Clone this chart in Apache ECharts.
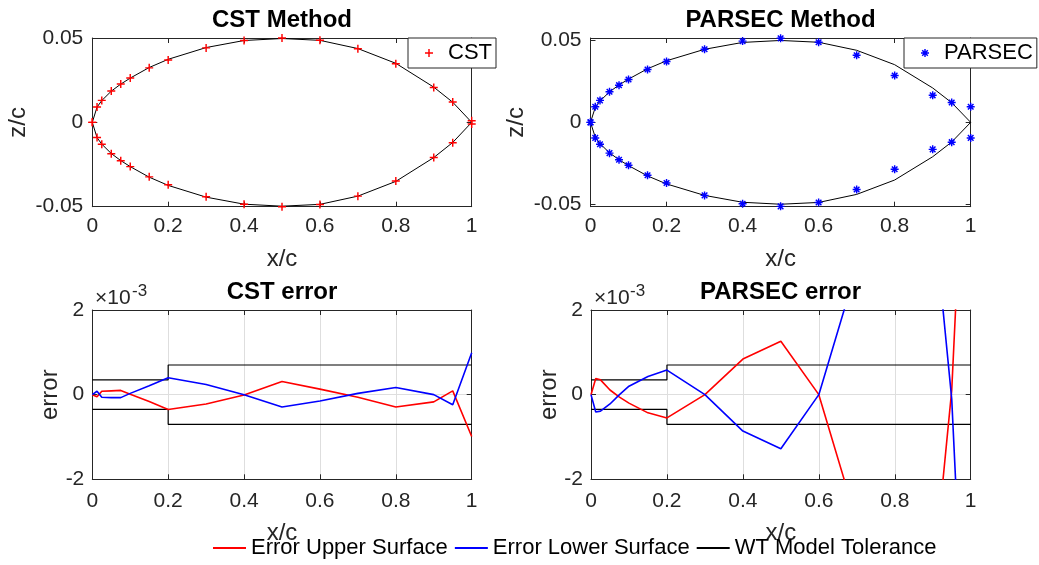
<!DOCTYPE html>
<html><head><meta charset="utf-8">
<script src="https://cdn.jsdelivr.net/npm/echarts@6/dist/echarts.min.js"></script>
<style>html,body{margin:0;padding:0;background:#fff}#c{width:1039px;height:565px}</style>
</head><body><div id="c"></div>
<script>
// ---- data ----
const xc = [0, 0.0125, 0.025, 0.05, 0.075, 0.1, 0.15, 0.2, 0.3, 0.4, 0.5, 0.6, 0.7, 0.8, 0.9, 0.95, 1];
const refUpper = [0, 0.0091, 0.0130, 0.0186, 0.0228, 0.0264, 0.0327, 0.0376, 0.0446, 0.0488, 0.0500, 0.0489, 0.0440, 0.0352, 0.0210, 0.0120, 0];
const refLower = [0, -0.0091, -0.0130, -0.0186, -0.0228, -0.0264, -0.0327, -0.0376, -0.0446, -0.0488, -0.0500, -0.0489, -0.0440, -0.0352, -0.0210, -0.0120, 0];
const cstUpper = [0, 0.0091, 0.0131, 0.0187, 0.0229, 0.0264, 0.0325, 0.0372, 0.0444, 0.0488, 0.0503, 0.0490, 0.0439, 0.0349, 0.0208, 0.0121, -0.0010];
const cstLower = [0, -0.0090, -0.0131, -0.0187, -0.0229, -0.0264, -0.0325, -0.0372, -0.0444, -0.0488, -0.0503, -0.0490, -0.0440, -0.0350, -0.0210, -0.0122, 0.0010];
const parsecUpper = [0, 0.0095, 0.0134, 0.0187, 0.0227, 0.0262, 0.0323, 0.0371, 0.0446, 0.0496, 0.0513, 0.0489, 0.0410, 0.0286, 0.0165, 0.0121, 0.0095];
const parsecLower = [0, -0.0095, -0.0134, -0.0188, -0.0228, -0.0262, -0.0323, -0.0370, -0.0446, -0.0497, -0.0513, -0.0489, -0.0410, -0.0286, -0.0165, -0.0121, -0.0095];
// errors in units of 1e-3
const cstErrUpper = [0, -0.05, 0.08, 0.09, 0.10, 0.01, -0.16, -0.35, -0.22, -0.01, 0.31, 0.13, -0.06, -0.29, -0.17, 0.09, -0.99];
const cstErrLower = [0, 0.08, -0.06, -0.07, -0.07, 0.03, 0.21, 0.40, 0.24, 0.00, -0.29, -0.15, 0.03, 0.17, 0.00, -0.24, 0.99];
const parsecErrUpper = [0, 0.38, 0.35, 0.11, -0.06, -0.20, -0.43, -0.55, 0.00, 0.84, 1.26, 0.00, -3.0, -6.6, -4.5, 0.1, 9.5];
const parsecErrLower = [0, -0.41, -0.39, -0.22, 0.00, 0.20, 0.43, 0.58, 0.00, -0.86, -1.28, 0.00, 3.0, 6.6, 4.5, -0.1, -9.5];
const tolX = [0, 0.2, 0.2, 1];
const tolUpper = [0.35, 0.35, 0.7, 0.7];
const tolLower = [-0.35, -0.35, -0.7, -0.7];
const zTicks = [-0.05, 0, 0.05];
const titles = ['CST Method', 'PARSEC Method', 'CST error', 'PARSEC error'];
const legendNames = ['Error Upper Surface', 'Error Lower Surface', 'WT Model Tolerance'];

// ---- styling ----
const FONT = '"Liberation Sans", Arial, sans-serif';
const AX = '#262626';
const PLUS = 'path://M4.1,0H5.9V4.1H10V5.9H5.9V10H4.1V5.9H0V4.1H4.1Z';
const STAR = 'path://M0,4.1H10V5.9H0Z M4.1,0H5.9V10H4.1Z M2.14,0.86L9.14,7.86L7.86,9.14L0.86,2.14Z M9.14,2.14L2.14,9.14L0.86,7.86L7.86,0.86Z';
const zip = (a, b) => a.map((v, i) => [v, b[i]]);

const grids = [
  {left: 92.3, top: 38, width: 379.4, height: 168.7},
  {left: 590.5, top: 38, width: 380.2, height: 168.7},
  {left: 92.3, top: 310, width: 379.4, height: 169.3},
  {left: 591, top: 310, width: 379.7, height: 169.3}
].map(g => Object.assign({outerBoundsMode: 'none', containLabel: false}, g));

const xAxis = [], yAxis = [];
grids.forEach((g, gi) => {
  const bottom = gi >= 2;
  const common = {gridIndex: gi, type: 'value', min: 0, max: 1, interval: 0.2,
    axisLine: {show: true, onZero: false, lineStyle: {color: AX, width: 1}},
    axisTick: {show: true, inside: true, length: 5, lineStyle: {color: AX}}};
  xAxis.push(Object.assign({}, common, {position: 'bottom',
    axisLabel: {show: true, color: AX, fontSize: 21, fontFamily: FONT, margin: bottom ? 11 : 9},
    splitLine: {show: bottom, lineStyle: {color: '#dedede', width: 1}},
    name: 'x/c', nameLocation: 'middle', nameGap: bottom ? 42 : 41, nameMoveOverlap: false,
    nameTextStyle: {fontSize: 24, fontFamily: FONT, color: AX}}));
  xAxis.push(Object.assign({}, common, {position: 'top', axisLabel: {show: false}, splitLine: {show: false}}));
  let ycommon;
  if (bottom) {
    ycommon = {gridIndex: gi, type: 'value', min: -2, max: 2, interval: 2,
      axisLine: {show: true, onZero: false, lineStyle: {color: AX, width: 1}},
      axisTick: {show: true, inside: true, length: 5, lineStyle: {color: AX}}};
  } else {
    const lim = gi === 0 ? 0.0503 : 0.0515;
    ycommon = {gridIndex: gi, type: 'value', min: -lim, max: lim,
      axisLine: {show: true, onZero: false, lineStyle: {color: AX, width: 1}},
      axisTick: {show: true, inside: true, length: 5, customValues: zTicks, lineStyle: {color: AX}}};
  }
  const lab = {show: true, color: AX, fontSize: 21, fontFamily: FONT, margin: bottom ? 8 : 9, padding: [6, 0, 0, 0]};
  if (!bottom) lab.customValues = zTicks;
  yAxis.push(Object.assign({}, ycommon, {position: 'left', axisLabel: lab,
    splitLine: {show: bottom, lineStyle: {color: '#dedede', width: 1}},
    name: bottom ? 'error' : 'z/c', nameLocation: 'middle', nameGap: bottom ? 30 : 62, nameMoveOverlap: false,
    nameTextStyle: {fontSize: 24, fontFamily: FONT, color: AX}}));
  yAxis.push(Object.assign({}, ycommon, {position: 'right', axisLabel: {show: false}, splitLine: {show: false}}));
});

const series = [];
function line(gi, name, xs, ys, color, width) {
  series.push({type: 'line', name, xAxisIndex: 2 * gi, yAxisIndex: 2 * gi, data: zip(xs, ys),
    showSymbol: false, symbol: 'none', animation: false,
    lineStyle: {color, width}, itemStyle: {color}, z: 2});
}
function scat(gi, name, ys, color, sym) {
  series.push({type: 'scatter', name, xAxisIndex: 2 * gi, yAxisIndex: 2 * gi, data: zip(xc, ys),
    symbol: sym, symbolSize: 8, clip: false, animation: false, itemStyle: {color, opacity: 1}, z: 3});
}
// top plots: reference airfoil + model points
line(0, 'Airfoil', xc, refUpper, '#000', 1);
line(0, 'Airfoil', xc, refLower, '#000', 1);
scat(0, 'CST', cstUpper, '#ff0000', PLUS);
scat(0, 'CST', cstLower, '#ff0000', PLUS);
line(1, 'Airfoil', xc, refUpper, '#000', 1);
line(1, 'Airfoil', xc, refLower, '#000', 1);
scat(1, 'PARSEC', parsecUpper, '#0000ff', STAR);
scat(1, 'PARSEC', parsecLower, '#0000ff', STAR);
// error plots
[[2, cstErrUpper, cstErrLower], [3, parsecErrUpper, parsecErrLower]].forEach(([gi, eu, el]) => {
  line(gi, legendNames[2], tolX, tolUpper, '#000', 1.2);
  line(gi, legendNames[2], tolX, tolLower, '#000', 1.2);
  line(gi, legendNames[0], xc, eu, '#ff0000', 1.6);
  line(gi, legendNames[1], xc, el, '#0000ff', 1.6);
});

const legendText = {fontSize: 22, fontFamily: FONT, color: '#000'};
const legend = [
  {left: 408, top: 38, padding: [4, 4, 4, 17], itemWidth: 28, itemHeight: 8, selectedMode: false,
   borderColor: AX, borderWidth: 1, backgroundColor: '#fff', textStyle: legendText,
   data: [{name: 'CST', icon: PLUS}]},
  {left: 904, top: 38, padding: [4, 4, 4, 17], itemWidth: 28, itemHeight: 8, selectedMode: false,
   borderColor: AX, borderWidth: 1, backgroundColor: '#fff', textStyle: legendText,
   data: [{name: 'PARSEC', icon: STAR}]},
  {left: 213, top: 537, padding: 0, itemWidth: 33, itemHeight: 2, itemGap: 7, icon: 'rect', selectedMode: false,
   textStyle: legendText, data: legendNames}
];

const tpos = [[282, 20], [780.5, 20], [282, 292], [780.5, 292]];
const graphic = titles.map((t, i) => ({type: 'text', x: tpos[i][0], y: tpos[i][1], silent: true,
  style: {text: t, font: 'bold 24px ' + FONT, fill: '#000', textAlign: 'center', textVerticalAlign: 'middle'}}));
[[95, 132], [594, 630]].forEach(([xa, xb]) => {
  graphic.push({type: 'text', x: xa, y: 298.5, silent: true,
    style: {text: '×10', font: '21px ' + FONT, fill: AX, textAlign: 'left', textVerticalAlign: 'middle'}});
  graphic.push({type: 'text', x: xb, y: 291, silent: true,
    style: {text: '-3', font: '17px ' + FONT, fill: AX, textAlign: 'left', textVerticalAlign: 'middle'}});
});

const chart = echarts.init(document.getElementById('c'), null, {renderer: 'canvas'});
chart.setOption({animation: false, backgroundColor: '#fff', grid: grids, xAxis, yAxis, series, legend, graphic});
</script></body></html>
